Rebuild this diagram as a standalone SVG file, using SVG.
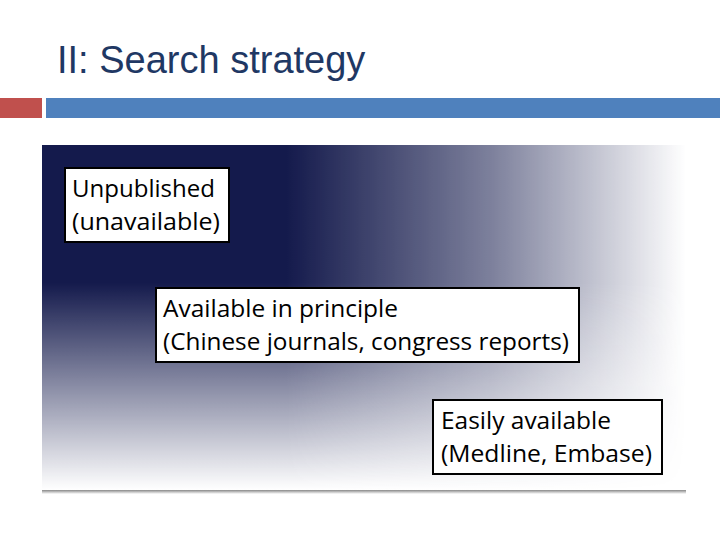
<svg xmlns="http://www.w3.org/2000/svg" width="720" height="540" viewBox="0 0 720 540">
<defs>
<linearGradient id="gh" x1="42" y1="0" x2="686" y2="0" gradientUnits="userSpaceOnUse">
<stop offset="0.38" stop-color="#fff"/><stop offset="0.7" stop-color="#fff" stop-opacity="0.55"/><stop offset="1" stop-color="#fff" stop-opacity="0"/>
</linearGradient>
<linearGradient id="gv" x1="0" y1="145" x2="0" y2="490" gradientUnits="userSpaceOnUse">
<stop offset="0.4" stop-color="#fff"/><stop offset="0.7" stop-color="#fff" stop-opacity="0.5"/><stop offset="1" stop-color="#fff" stop-opacity="0"/>
</linearGradient>
<mask id="mh"><rect x="0" y="0" width="720" height="540" fill="url(#gh)"/></mask>
<mask id="mv"><rect x="0" y="0" width="720" height="540" fill="url(#gv)"/></mask>
<linearGradient id="sh" x1="0" y1="0" x2="0" y2="1"><stop offset="0" stop-color="#888"/><stop offset="1" stop-color="#fff"/></linearGradient>
<style>
.box{fill:#fff;stroke:#000;stroke-width:2}
.t{font-family:"Open Sans","Liberation Sans",sans-serif;font-size:23px;fill:#000}
</style>
</defs>
<rect width="720" height="540" fill="#fff"/>
<text x="57" y="73" font-family="Liberation Sans,sans-serif" font-size="38" fill="#1f3864">II: Search strategy</text>
<rect x="0" y="98" width="42" height="20" fill="#c0504d"/>
<rect x="46" y="98" width="674" height="20" fill="#4f81bd"/>
<rect x="42" y="490" width="644" height="4" fill="url(#sh)"/>
<g mask="url(#mv)"><rect x="42" y="145" width="644" height="345" fill="#141a4c" mask="url(#mh)"/></g>
<g id="n1"><rect class="box" x="65" y="168" width="164" height="74"/>
<text class="t" x="72" y="197" textLength="143" lengthAdjust="spacingAndGlyphs">Unpublished</text><text class="t" x="72" y="230" textLength="148" lengthAdjust="spacingAndGlyphs">(unavailable)</text></g>
<g id="n2"><rect class="box" x="156" y="288" width="423" height="74"/>
<text class="t" x="163" y="317" textLength="235" lengthAdjust="spacingAndGlyphs">Available in principle</text><text class="t" x="163" y="350" textLength="406" lengthAdjust="spacingAndGlyphs">(Chinese journals, congress reports)</text></g>
<g id="n3"><rect class="box" x="433" y="400" width="229" height="74"/>
<text class="t" x="441" y="429" textLength="170" lengthAdjust="spacingAndGlyphs">Easily available</text><text class="t" x="441" y="462" textLength="211" lengthAdjust="spacingAndGlyphs">(Medline, Embase)</text></g>
<g id="connectors"/>
</svg>
